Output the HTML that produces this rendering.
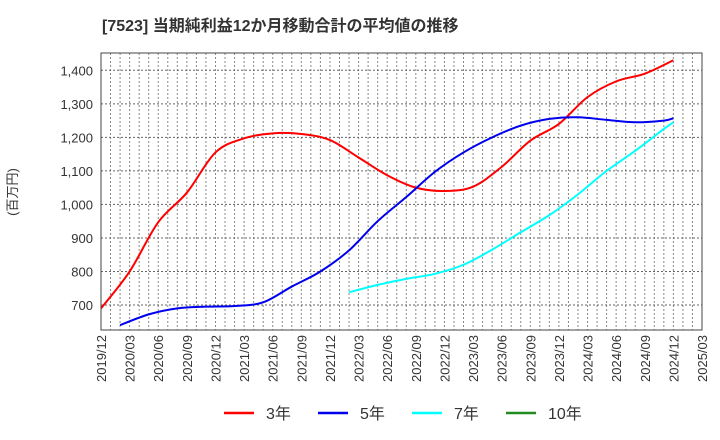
<!DOCTYPE html>
<html><head><meta charset="utf-8"><style>
body{margin:0;background:#fff;}
svg{display:block;font-family:"Liberation Sans","Noto Sans CJK JP",sans-serif;}
</style></head><body>
<svg id="chart" width="720" height="440">
<text x="102" y="31" font-size="16" font-weight="bold" fill="#333">[7523]  当期純利益12か月移動合計の平均値の推移</text>
<text transform="translate(17,192) rotate(-90)" text-anchor="middle" font-size="13" fill="#333">(百万円)</text>
<g id="grid"></g><g id="series"></g><g id="axes"></g>
<g id="legend"></g>
</svg>
<script>
const yTicks=[700,800,900,1000,1100,1200,1300,1400];
const xLabels=["2019/12","2020/03","2020/06","2020/09","2020/12","2021/03","2021/06","2021/09","2021/12","2022/03","2022/06","2022/09","2022/12","2023/03","2023/06","2023/09","2023/12","2024/03","2024/06","2024/09","2024/12","2025/03"];
const red3Months=[0,3,6,9,12,15,18,21,24,27,30,33,36,39,42,45,48,51,54,57,60];
const red3Values=[690,800,947,1035,1155,1197,1212,1210,1192,1140,1087,1050,1040,1053,1112,1190,1240,1320,1367,1390,1430];
const blue5Months=[2,5,8,11,14,17,20,23,26,29,32,35,38,41,44,47,50,53,56,59,60];
const blue5Values=[640,672,690,695,697,708,755,800,863,950,1022,1097,1155,1200,1235,1255,1260,1252,1245,1250,1257];
const cyan7Months=[26,29,32,35,38,41,44,47,50,53,56,59,60];
const cyan7Values=[738,760,778,793,820,865,917,968,1030,1100,1160,1225,1245];
const L=101,R=702,T=53,B=330;
const xs=m=>L+m*(R-L)/63;
const ys=v=>70.3+(1400-v)*(305-70.3)/700;
const NS="http://www.w3.org/2000/svg";
const grid=document.getElementById('grid'),axes=document.getElementById('axes'),ser=document.getElementById('series'),leg=document.getElementById('legend');
function mk(tag,attrs,parent){const e=document.createElementNS(NS,tag);for(const k in attrs)e.setAttribute(k,attrs[k]);parent.appendChild(e);return e;}
for(let m=1;m<63;m++){const l=mk('line',{x1:xs(m),x2:xs(m),y1:T,y2:B,stroke:'#888','stroke-dasharray':'2,2','stroke-width':1},grid);

}
yTicks.forEach(v=>{const l=mk('line',{x1:L,x2:R,y1:ys(v),y2:ys(v),stroke:'#666','stroke-dasharray':'2,2','stroke-width':1},grid);


const t=mk('text',{x:L-8,y:ys(v)+5,'text-anchor':'end','font-size':13,fill:'#333'},axes);
t.textContent=v.toLocaleString('en-US');

});
xLabels.forEach((s,i)=>{const x=xs(i*3);const t=mk('text',{transform:`translate(${x+5},${B+5}) rotate(-90)`,'text-anchor':'end','font-size':13,fill:'#333'},axes);
t.textContent=s;

});
const fr=mk('rect',{x:L,y:T,width:R-L,height:B-T,fill:'none',stroke:'#444','stroke-width':1},axes);


function path(ms,vs){const p=ms.map((m,i)=>[xs(m),ys(vs[i])]);let d=`M${p[0][0]},${p[0][1]}`;
for(let i=0;i<p.length-1;i++){const p0=p[Math.max(0,i-1)],p1=p[i],p2=p[i+1],p3=p[Math.min(p.length-1,i+2)];
d+=` C${p1[0]+(p2[0]-p0[0])/6},${p1[1]+(p2[1]-p0[1])/6} ${p2[0]-(p3[0]-p1[0])/6},${p2[1]-(p3[1]-p1[1])/6} ${p2[0]},${p2[1]}`;}return d;}
[[red3Months,red3Values,'#ff0000','series-3y'],[blue5Months,blue5Values,'#0000ee','series-5y'],[cyan7Months,cyan7Values,'#00ffff','series-7y']].forEach(s=>{
const e=mk('path',{d:path(s[0],s[1]),fill:'none',stroke:s[2],'stroke-width':2},ser);

});
[['3年','#ff0000',224],['5年','#0000ee',318],['7年','#00ffff',412],['10年','#228b22',506]].forEach(l=>{
const g=mk('g',{},leg);


mk('line',{x1:l[2],x2:l[2]+30,y1:413,y2:413,stroke:l[1],'stroke-width':2.5},g);
const t=mk('text',{x:l[2]+42,y:419,'font-size':16,fill:'#333'},g);t.textContent=l[0];});
</script>
</body></html>
